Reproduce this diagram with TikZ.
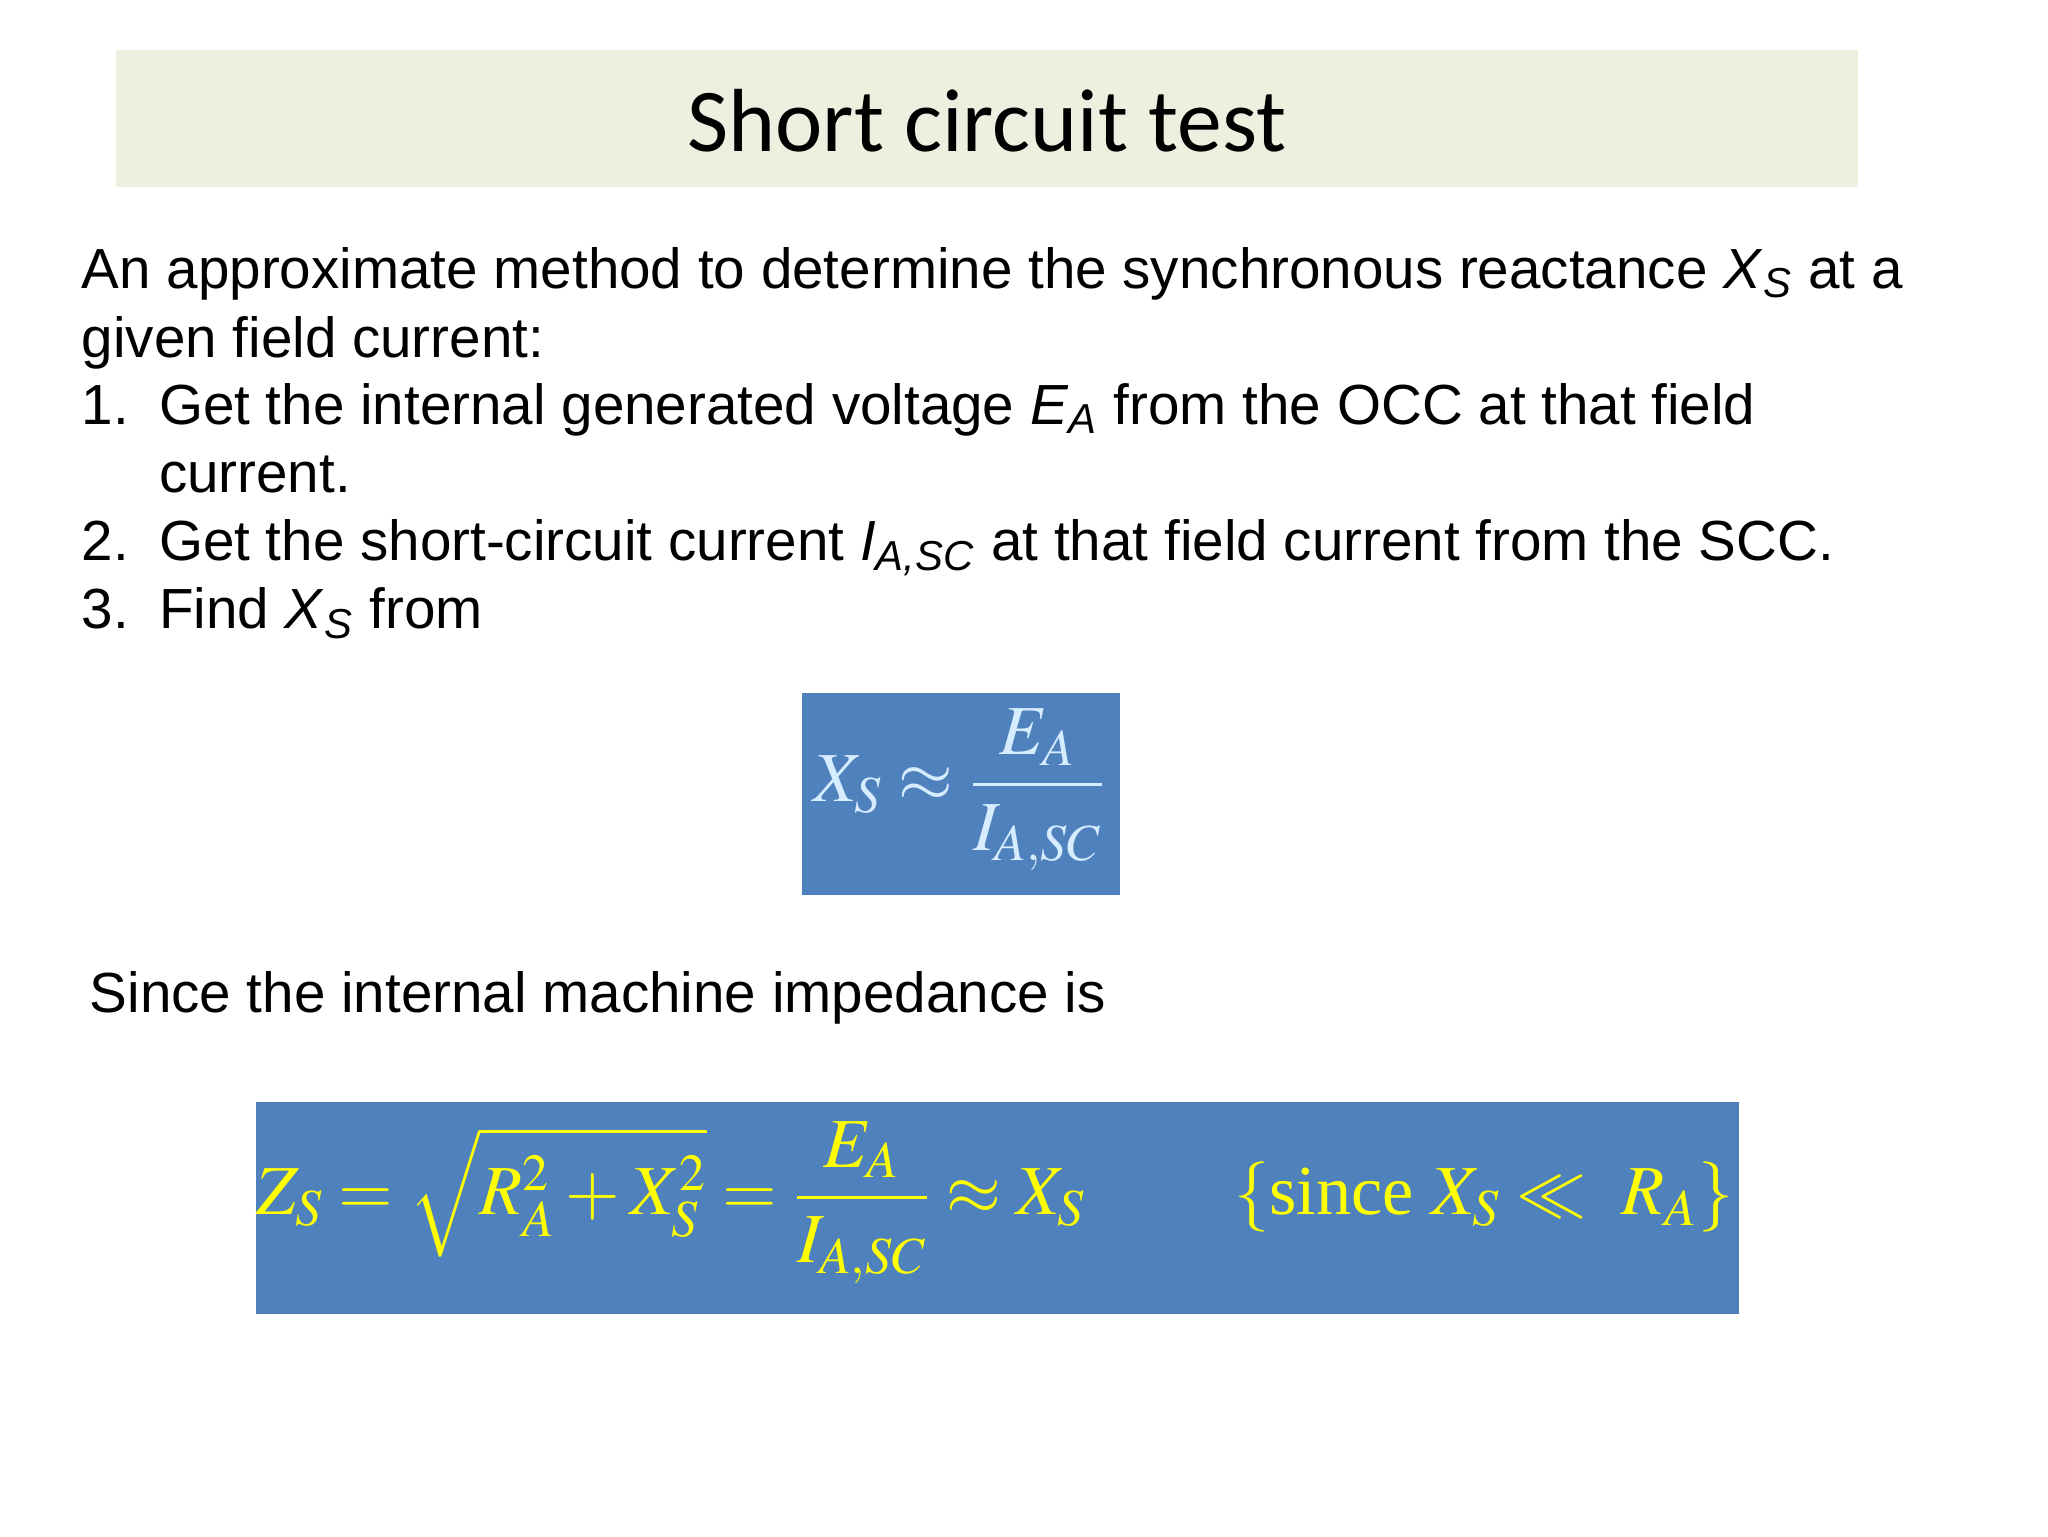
\documentclass[tikz,border=0pt]{standalone}
\usepackage{mathptmx}
\usepackage{amsmath}
\usepackage[no-math]{fontspec}
\setmainfont{Liberation Sans}
\newfontfamily\titlefont{Carlito}
\newfontfamily\serif{Liberation Serif}
\definecolor{titlebg}{HTML}{EBF1DE}
\definecolor{boxbg}{HTML}{4F81BD}
\definecolor{lightblue}{HTML}{D6ECFF}
\definecolor{yel}{HTML}{FFFF00}
\tikzset{line/.style={anchor=base west,inner sep=0pt,font=\fontsize{16.1}{19}\selectfont}}
\begin{document}
\begin{tikzpicture}[x=0.99cm,y=-0.99cm]
\useasboundingbox (0,0) rectangle (20.69,15.52);
\fill[titlebg] (1.17,0.51) rectangle (18.77,1.89);
\node[inner sep=0pt,font=\titlefont\fontsize{25.5}{30}\selectfont] (title) at (9.97,1.22) {Short circuit test};
\node[line] (l1) at (0.82,2.91) {An approximate method to determine the synchronous reactance \textit{X}\textsubscript{\textit{S}} at a};
\node[line] (l2) at (0.82,3.61) {given field current:};
\node[line] (n1) at (0.82,4.29) {1.};
\node[line] (l3) at (1.60,4.29) {Get the internal generated voltage \textit{E}\textsubscript{\textit{A}} from the OCC at that field};
\node[line] (l4) at (1.60,4.98) {current.};
\node[line] (n2) at (0.82,5.66) {2.};
\node[line] (l5) at (1.60,5.66) {Get the short-circuit current \textit{I}\textsubscript{\textit{A,SC}} at that field current from the SCC.};
\node[line] (n3) at (0.82,6.35) {3.};
\node[line] (l6) at (1.60,6.35) {Find \textit{X}\textsubscript{\textit{S}} from};
\fill[boxbg] (8.10,7.00) rectangle (11.31,9.04);
\node[inner sep=0pt,text=lightblue,font=\fontsize{20}{24}\selectfont] (f1) at (9.70,7.98) {$X_S \approx \dfrac{E_A}{I_{A,SC}}$};
\node[line] (l7) at (0.90,10.23) {Since the internal machine impedance is};
\fill[boxbg] (2.59,11.13) rectangle (17.57,13.27);
\node[inner sep=0pt,text=yel,font=\fontsize{20}{24}\selectfont] (f2) at (10.05,12.15) {$Z_S=\sqrt{R_A^2+X_S^2}=\dfrac{E_A}{I_{A,SC}}\approx X_S\qquad\left\{\text{\serif since }X_S\ll\ R_A\right\}$};
\end{tikzpicture}
\end{document}
